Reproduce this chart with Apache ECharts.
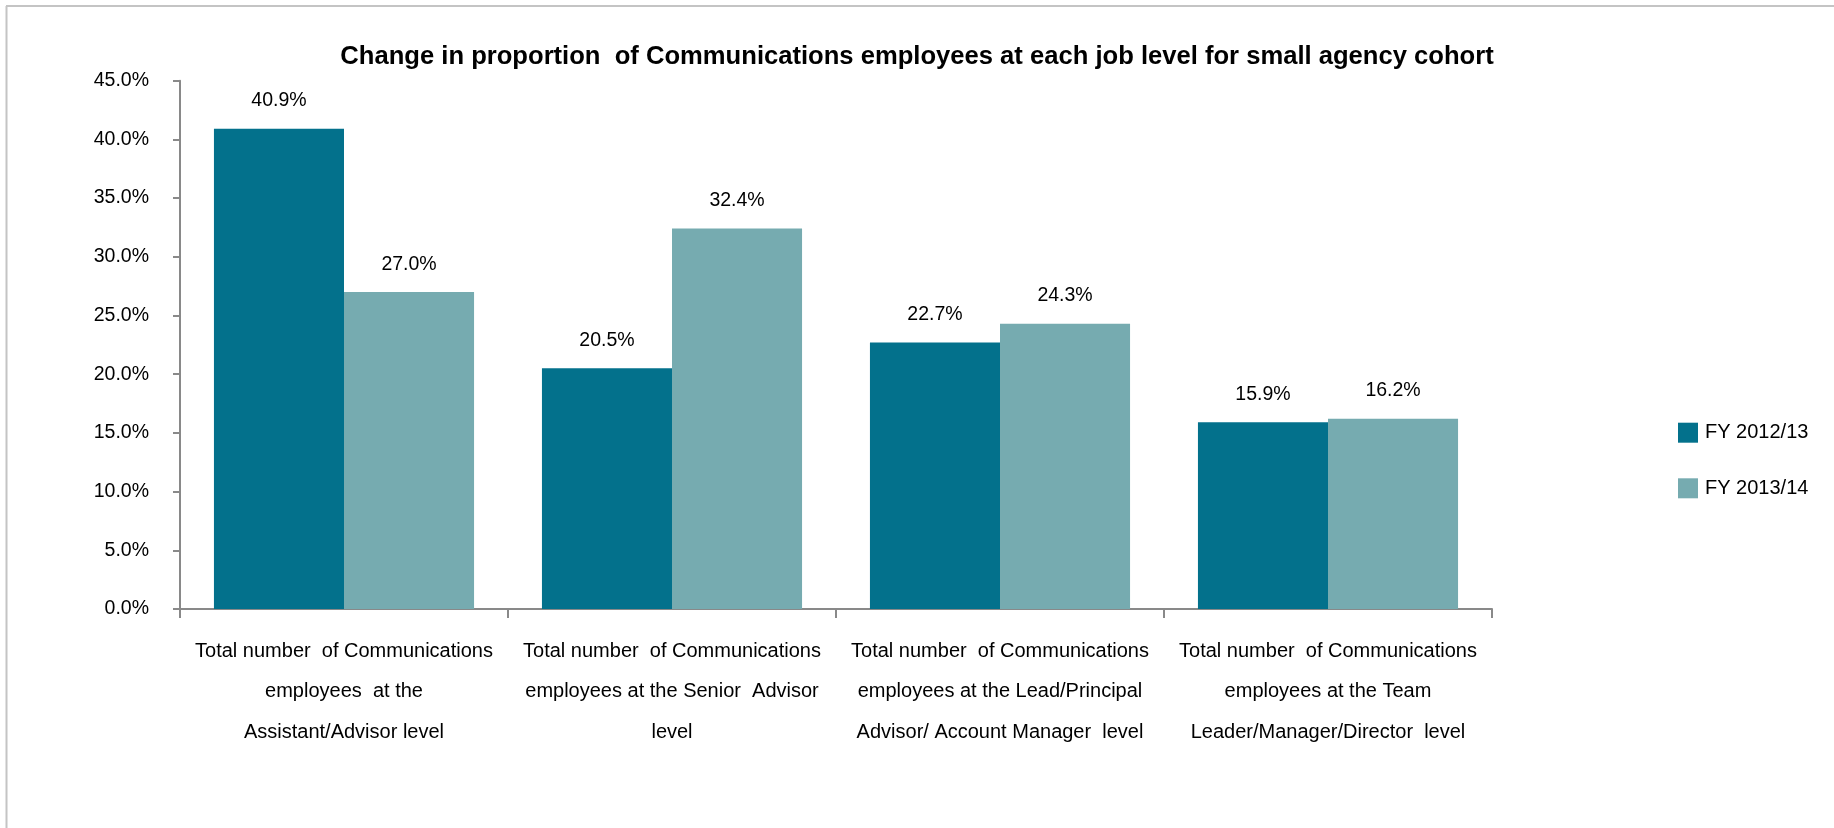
<!DOCTYPE html>
<html>
<head>
<meta charset="utf-8">
<script src="https://cdn.jsdelivr.net/npm/echarts@6/dist/echarts.min.js"></script>
<style>
html,body{margin:0;padding:0;background:#fff;}
#chart{width:1834px;height:828px;}
</style>
</head>
<body>
<div id="chart"></div>
<script>
var titleText = 'Change in proportion  of Communications employees at each job level for small agency cohort';
var categories = [
  'Total number  of Communications\nemployees  at the\nAssistant/Advisor level',
  'Total number  of Communications\nemployees at the Senior  Advisor\nlevel',
  'Total number  of Communications\nemployees at the Lead/Principal\nAdvisor/ Account Manager  level',
  'Total number  of Communications\nemployees at the Team\nLeader/Manager/Director  level'
];
var seriesNames = ['FY 2012/13', 'FY 2013/14'];
var fy2012 = [40.9, 20.5, 22.7, 15.9];
var fy2013 = [27.0, 32.4, 24.3, 16.2];
var yTicks = {min: 0, max: 45, interval: 5};

var FONT = '"Liberation Sans", Arial, sans-serif';
var chart = echarts.init(document.getElementById('chart'));
var labelOpt = {
  show: true, position: 'top', distance: 18,
  fontFamily: FONT, fontSize: 19.5, lineHeight: 19.5, color: '#000',
  formatter: function (p) { return p.value.toFixed(1) + '%'; }
};
chart.setOption({
  animation: false,
  backgroundColor: '#fff',
  textStyle: {fontFamily: FONT},
  title: {
    text: titleText, left: 'center', top: 39,
    textStyle: {fontFamily: FONT, fontSize: 25.6, fontWeight: 'bold', color: '#000'}
  },
  graphic: [
    {type: 'line', shape: {x1: 6, y1: 6, x2: 1834, y2: 6}, style: {stroke: '#C4C4C4', lineWidth: 2}},
    {type: 'line', shape: {x1: 6.5, y1: 6, x2: 6.5, y2: 828}, style: {stroke: '#C4C4C4', lineWidth: 2}}
  ],
  legend: {
    orient: 'vertical', left: 1673, top: 417.7,
    itemWidth: 20, itemHeight: 20, itemGap: 35.6,
    icon: 'rect',
    textStyle: {fontFamily: FONT, fontSize: 20, color: '#000', padding: [0, 0, 0, 2]},
    data: seriesNames
  },
  grid: {left: 180, right: 342, top: 80.7, bottom: 219, containLabel: false},
  xAxis: {
    type: 'category', data: categories,
    axisLine: {lineStyle: {color: '#898989', width: 2}},
    axisTick: {show: true, length: 9, lineStyle: {color: '#898989', width: 2}},
    axisLabel: {interval: 0, margin: 22, fontFamily: FONT, fontSize: 20, lineHeight: 40.5, color: '#000', align: 'center'}
  },
  yAxis: {
    type: 'value', min: yTicks.min, max: yTicks.max, interval: yTicks.interval,
    splitLine: {show: false},
    axisLine: {show: true, lineStyle: {color: '#898989', width: 2}},
    axisTick: {show: true, length: 7, lineStyle: {color: '#898989', width: 2}},
    axisLabel: {margin: 31, fontFamily: FONT, fontSize: 19.5, color: '#000',
      formatter: function (v) { return v.toFixed(1) + '%'; }}
  },
  series: [
    {name: seriesNames[0], type: 'bar', data: fy2012, barGap: '0%', barCategoryGap: '20.7%',
     itemStyle: {color: '#03718C'}, label: labelOpt},
    {name: seriesNames[1], type: 'bar', data: fy2013, barGap: '0%', barCategoryGap: '20.7%',
     itemStyle: {color: '#76ABB0'}, label: labelOpt}
  ]
});
</script>
</body>
</html>
